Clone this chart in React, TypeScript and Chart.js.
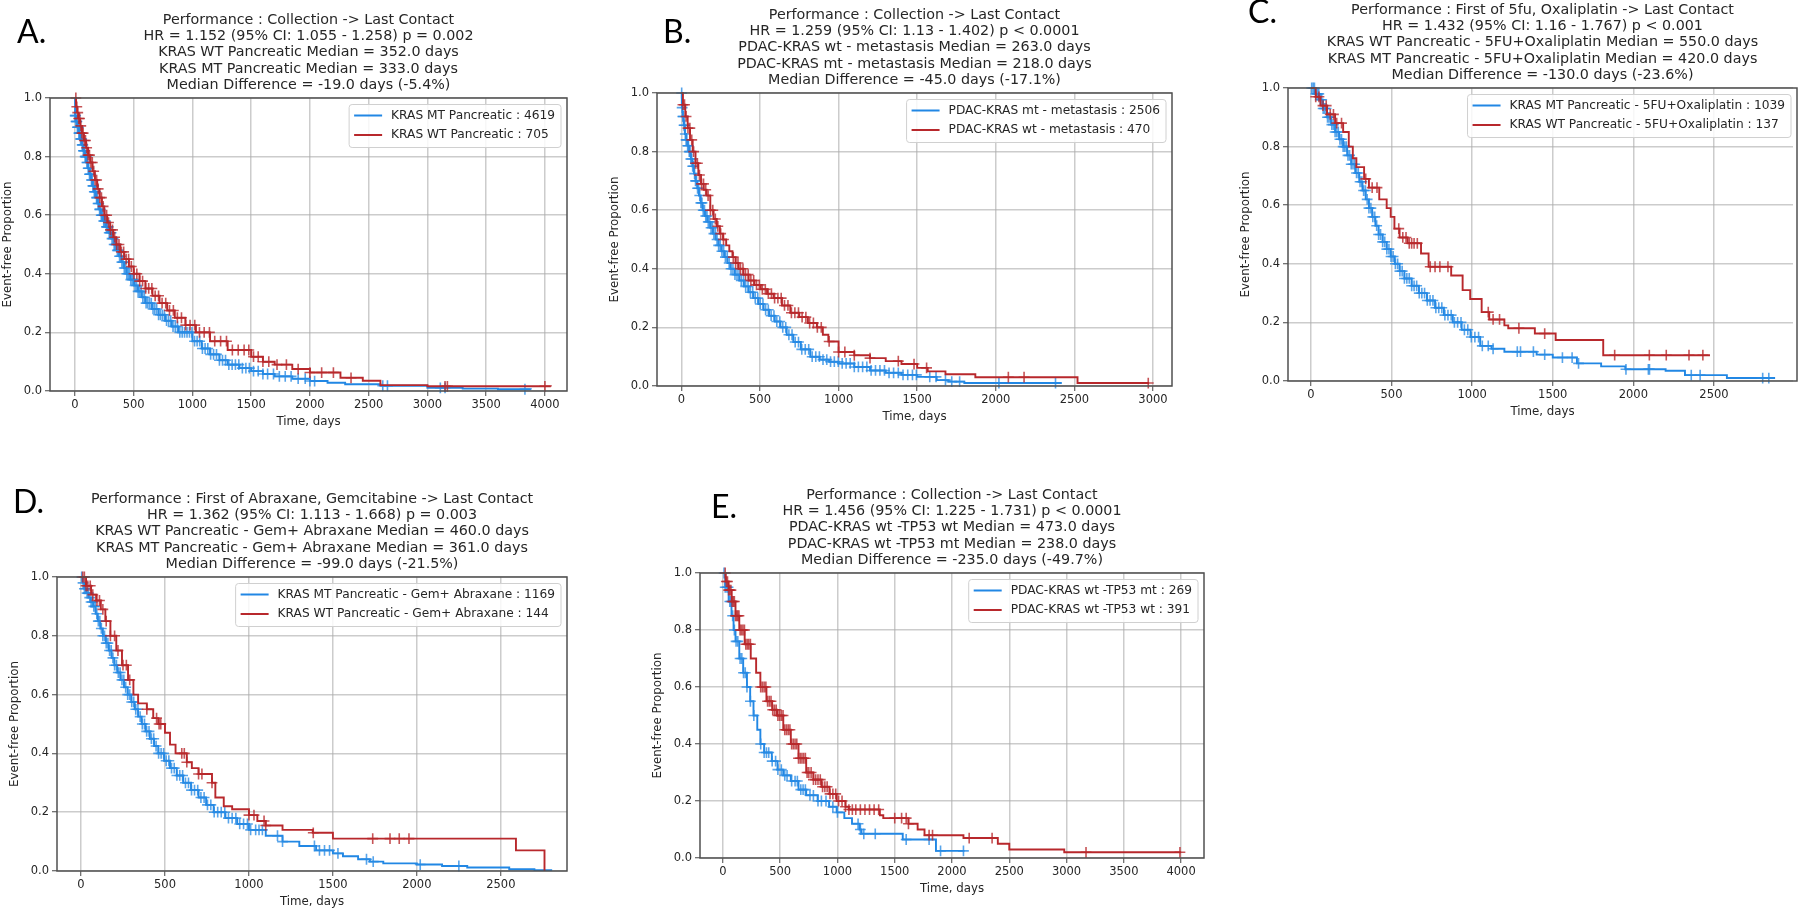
import React, { useEffect, useRef } from "react";
import { Chart, registerables } from "chart.js";
Chart.register(...registerables);

const W = 1800;
const H = 913;
const BLUE = "#2187e4";
const RED = "#b8282c";
const BLUE_C = "rgba(40,138,228,0.78)";
const RED_C = "rgba(184,40,44,0.8)";

// ---------- Panel A ----------
const aTitle = [
  "Performance : Collection -> Last Contact",
  "HR = 1.152 (95% CI: 1.055 - 1.258) p = 0.002",
  "KRAS WT Pancreatic Median = 352.0 days",
  "KRAS MT Pancreatic Median = 333.0 days",
  "Median Difference = -19.0 days (-5.4%)",
];
const aLegend = ["KRAS MT Pancreatic : 4619", "KRAS WT Pancreatic : 705"];
const aXTicks = [0, 500, 1000, 1500, 2000, 2500, 3000, 3500, 4000];
const aMtT = [0, 2, 8, 21, 34, 47, 60, 72, 85, 98, 111, 124, 137, 150, 164, 178, 192, 206, 220, 243, 265, 288, 310, 333, 354, 376, 397, 418, 440, 472, 504, 536, 568, 600, 656, 712, 768, 824, 880, 1000, 1080, 1150, 1230, 1300, 1400, 1500, 1600, 1700, 1850, 2000, 2150, 2300, 2600, 3000, 3300, 3600, 3880];
const aMtS = [1.0, 0.94, 0.92, 0.9, 0.88, 0.86, 0.84, 0.82, 0.8, 0.78, 0.76, 0.74, 0.72, 0.7, 0.68, 0.66, 0.64, 0.62, 0.6, 0.58, 0.56, 0.54, 0.52, 0.5, 0.48, 0.46, 0.44, 0.42, 0.4, 0.38, 0.36, 0.34, 0.32, 0.3, 0.28, 0.26, 0.24, 0.22, 0.2, 0.17, 0.145, 0.125, 0.105, 0.09, 0.078, 0.068, 0.058, 0.05, 0.042, 0.034, 0.028, 0.023, 0.018, 0.011, 0.008, 0.006, 0.005];
const aMtCens = [2, 6, 9, 13, 17, 21, 26, 30, 34, 39, 44, 48, 53, 58, 62, 67, 72, 77, 82, 87, 92, 97, 102, 108, 113, 118, 124, 130, 135, 141, 147, 153, 159, 165, 171, 177, 184, 190, 197, 203, 210, 217, 224, 231, 238, 245, 252, 260, 268, 276, 284, 292, 300, 308, 316, 325, 334, 343, 352, 361, 370, 380, 390, 400, 410, 420, 431, 442, 453, 464, 476, 488, 500, 512, 525, 538, 551, 564, 578, 592, 606, 620, 635, 650, 665, 680, 696, 712, 728, 745, 762, 780, 798, 816, 835, 854, 873, 893, 913, 933, 954, 975, 996, 1018, 1040, 1062, 1085, 1108, 1131, 1155, 1180, 1205, 1230, 1256, 1282, 1310, 1338, 1366, 1395, 1425, 1455, 1485, 1520, 1560, 1600, 1640, 1690, 1740, 1790, 1840, 1900, 1960, 2000, 2040, 2620, 2660, 3110, 3150, 3830];
const aWtT = [0, 10, 20, 30, 45, 60, 77, 95, 112, 130, 150, 170, 190, 210, 230, 250, 275, 300, 326, 352, 385, 420, 460, 500, 550, 600, 660, 720, 785, 850, 940, 1030, 1150, 1300, 1500, 1600, 1700, 1850, 2000, 2260, 2450, 2600, 3000, 4050];
const aWtS = [1.0, 0.97, 0.95, 0.93, 0.905, 0.88, 0.855, 0.83, 0.805, 0.78, 0.75, 0.72, 0.69, 0.66, 0.63, 0.6, 0.575, 0.55, 0.525, 0.5, 0.475, 0.45, 0.425, 0.4, 0.375, 0.35, 0.325, 0.3, 0.275, 0.25, 0.225, 0.2, 0.17, 0.14, 0.117, 0.1, 0.09, 0.075, 0.063, 0.045, 0.035, 0.02, 0.016, 0.015];
const aWtCens = [8, 16, 24, 32, 40, 50, 60, 70, 80, 90, 100, 112, 124, 136, 148, 160, 172, 185, 198, 212, 226, 240, 255, 270, 286, 302, 320, 338, 356, 375, 395, 415, 436, 457, 480, 503, 527, 551, 576, 602, 628, 655, 683, 712, 742, 773, 805, 838, 872, 907, 943, 980, 1020, 1060, 1100, 1145, 1190, 1240, 1290, 1340, 1390, 1440, 1480, 1520, 1560, 1600, 1650, 1720, 1800, 1900, 2000, 2100, 2200, 2350, 3150, 3170, 4000];

// ---------- Panel B ----------
const bTitle = [
  "Performance : Collection -> Last Contact",
  "HR = 1.259 (95% CI: 1.13 - 1.402) p < 0.0001",
  "PDAC-KRAS wt - metastasis Median = 263.0 days",
  "PDAC-KRAS mt - metastasis Median = 218.0 days",
  "Median Difference = -45.0 days (-17.1%)",
];
const bLegend = ["PDAC-KRAS mt - metastasis : 2506", "PDAC-KRAS wt - metastasis : 470"];
const bXTicks = [0, 500, 1000, 1500, 2000, 2500, 3000];
const bMtT = [0, 3, 8, 15, 22, 30, 40, 50, 60, 70, 80, 90, 101, 112, 123, 135, 150, 166, 184, 201, 218, 236, 255, 274, 293, 312, 340, 369, 398, 428, 458, 490, 523, 558, 594, 630, 670, 712, 760, 820, 880, 940, 1000, 1100, 1200, 1300, 1400, 1500, 1624, 1700, 1800, 2420];
const bMtS = [1.0, 0.95, 0.92, 0.89, 0.86, 0.84, 0.82, 0.8, 0.775, 0.75, 0.725, 0.7, 0.675, 0.65, 0.625, 0.6, 0.58, 0.56, 0.54, 0.52, 0.5, 0.48, 0.46, 0.44, 0.42, 0.4, 0.38, 0.36, 0.34, 0.32, 0.3, 0.28, 0.26, 0.24, 0.22, 0.2, 0.175, 0.15, 0.125, 0.1, 0.09, 0.083, 0.077, 0.065, 0.053, 0.045, 0.038, 0.031, 0.02, 0.015, 0.01, 0.01];
const bMtCens = [2, 5, 9, 13, 17, 21, 25, 30, 35, 40, 45, 50, 55, 60, 66, 72, 78, 84, 90, 96, 103, 110, 117, 124, 131, 139, 147, 155, 163, 171, 180, 189, 198, 207, 217, 227, 237, 247, 258, 269, 280, 292, 304, 316, 328, 341, 354, 367, 381, 395, 409, 424, 439, 454, 470, 486, 502, 519, 536, 553, 571, 589, 607, 626, 645, 664, 684, 704, 724, 745, 766, 788, 810, 832, 855, 878, 901, 925, 949, 973, 998, 1023, 1048, 1074, 1100, 1126, 1153, 1180, 1207, 1235, 1263, 1292, 1321, 1350, 1380, 1410, 1440, 1470, 1495, 1580, 1620, 1680, 1720, 1770, 2020, 2380];
const bWtT = [0, 10, 25, 40, 55, 72, 90, 108, 125, 142, 160, 184, 205, 225, 245, 265, 285, 305, 325, 345, 364, 395, 428, 465, 505, 545, 587, 640, 693, 750, 805, 862, 900, 935, 1000, 1100, 1200, 1300, 1400, 1500, 1567, 1680, 1870, 2520, 2975];
const bWtS = [1.0, 0.96, 0.92, 0.88, 0.84, 0.8, 0.76, 0.72, 0.69, 0.67, 0.65, 0.6, 0.57, 0.545, 0.52, 0.5, 0.48, 0.46, 0.44, 0.42, 0.4, 0.38, 0.36, 0.345, 0.33, 0.315, 0.3, 0.275, 0.25, 0.235, 0.215, 0.2, 0.175, 0.152, 0.116, 0.105, 0.095, 0.085, 0.075, 0.062, 0.05, 0.04, 0.03, 0.01, 0.01];
const bWtCens = [10, 20, 30, 42, 54, 66, 78, 90, 102, 115, 128, 141, 155, 170, 185, 200, 216, 232, 250, 268, 330, 345, 360, 376, 392, 408, 425, 442, 460, 478, 496, 515, 534, 553, 573, 593, 614, 635, 656, 678, 700, 722, 745, 768, 792, 816, 840, 865, 890, 940, 1000, 1040, 1100, 1200, 1380, 1480, 1560, 2080, 2180, 2970];

// ---------- Panel C ----------
const cTitle = [
  "Performance : First of 5fu, Oxaliplatin -> Last Contact",
  "HR = 1.432 (95% CI: 1.16 - 1.767) p < 0.001",
  "KRAS WT Pancreatic - 5FU+Oxaliplatin Median = 550.0 days",
  "KRAS MT Pancreatic - 5FU+Oxaliplatin Median = 420.0 days",
  "Median Difference = -130.0 days (-23.6%)",
];
const cLegend = ["KRAS MT Pancreatic - 5FU+Oxaliplatin : 1039", "KRAS WT Pancreatic - 5FU+Oxaliplatin : 137"];
const cXTicks = [0, 500, 1000, 1500, 2000, 2500];
const cMtT = [0, 25, 50, 75, 100, 125, 150, 175, 200, 225, 250, 275, 300, 320, 340, 360, 380, 400, 420, 445, 470, 495, 520, 550, 580, 625, 670, 720, 770, 825, 880, 935, 990, 1050, 1120, 1200, 1400, 1500, 1650, 1800, 1950, 2200, 2320, 2580, 2879];
const cMtS = [1.0, 0.98, 0.96, 0.93, 0.9, 0.875, 0.85, 0.825, 0.8, 0.77, 0.74, 0.71, 0.68, 0.65, 0.62, 0.59, 0.56, 0.53, 0.5, 0.475, 0.45, 0.425, 0.4, 0.375, 0.35, 0.325, 0.3, 0.275, 0.25, 0.225, 0.2, 0.175, 0.15, 0.12, 0.11, 0.1, 0.09, 0.08, 0.06, 0.05, 0.04, 0.035, 0.02, 0.01, 0.01];
const cMtCens = [5, 14, 22, 31, 40, 49, 58, 67, 76, 85, 94, 103, 112, 121, 130, 140, 150, 160, 170, 180, 190, 200, 210, 220, 230, 240, 250, 261, 272, 283, 294, 305, 316, 327, 338, 349, 360, 372, 384, 396, 408, 420, 432, 445, 458, 471, 484, 497, 510, 524, 538, 552, 566, 580, 595, 610, 625, 640, 656, 672, 688, 705, 722, 739, 757, 775, 793, 812, 831, 850, 870, 890, 910, 931, 952, 973, 995, 1017, 1040, 1063, 1100, 1130, 1280, 1300, 1380, 1450, 1560, 1620, 1660, 1954, 2093, 2100, 2359, 2414, 2802, 2840];
const cWtT = [0, 30, 60, 100, 150, 200, 235, 260, 282, 330, 360, 424, 470, 495, 518, 550, 600, 683, 730, 870, 941, 988, 1059, 1106, 1200, 1224, 1389, 1518, 1813, 2475];
const cWtS = [1.0, 0.97, 0.94, 0.91, 0.88, 0.85, 0.8, 0.76, 0.73, 0.69, 0.66, 0.62, 0.59, 0.56, 0.52, 0.49, 0.47, 0.435, 0.39, 0.36, 0.31, 0.28, 0.235, 0.21, 0.19, 0.18, 0.162, 0.14, 0.088, 0.088];
const cWtCens = [30, 50, 75, 95, 120, 140, 160, 190, 340, 380, 410, 545, 570, 590, 610, 625, 640, 660, 740, 770, 800, 850, 1100, 1130, 1170, 1290, 1450, 1884, 2099, 2204, 2345, 2431];

// ---------- Panel D ----------
const dTitle = [
  "Performance : First of Abraxane, Gemcitabine -> Last Contact",
  "HR = 1.362 (95% CI: 1.113 - 1.668) p = 0.003",
  "KRAS WT Pancreatic - Gem+ Abraxane Median = 460.0 days",
  "KRAS MT Pancreatic - Gem+ Abraxane Median = 361.0 days",
  "Median Difference = -99.0 days (-21.5%)",
];
const dLegend = ["KRAS MT Pancreatic - Gem+ Abraxane : 1169", "KRAS WT Pancreatic - Gem+ Abraxane : 144"];
const dXTicks = [0, 500, 1000, 1500, 2000, 2500];
const dMtT = [0, 10, 20, 32, 45, 58, 73, 87, 100, 115, 130, 148, 165, 182, 198, 216, 235, 256, 278, 299, 320, 340, 361, 385, 410, 435, 460, 495, 530, 570, 608, 655, 700, 745, 790, 860, 930, 1000, 1100, 1200, 1300, 1400, 1500, 1560, 1650, 1720, 1800, 2000, 2150, 2300, 2550, 2700, 2800];
const dMtS = [1.0, 0.98, 0.96, 0.945, 0.93, 0.915, 0.9, 0.875, 0.85, 0.825, 0.8, 0.775, 0.75, 0.725, 0.7, 0.675, 0.65, 0.625, 0.6, 0.575, 0.55, 0.525, 0.5, 0.475, 0.45, 0.425, 0.4, 0.375, 0.35, 0.325, 0.3, 0.275, 0.25, 0.225, 0.2, 0.18, 0.16, 0.14, 0.12, 0.1, 0.085, 0.07, 0.06, 0.05, 0.04, 0.032, 0.026, 0.022, 0.017, 0.012, 0.006, 0.003, 0.0];
const dMtCens = [4, 12, 20, 28, 36, 44, 52, 60, 68, 76, 85, 94, 103, 112, 121, 130, 140, 150, 160, 170, 180, 190, 200, 211, 222, 233, 244, 255, 266, 278, 290, 302, 314, 326, 339, 352, 365, 378, 391, 405, 419, 433, 447, 462, 477, 492, 507, 523, 539, 555, 571, 588, 605, 622, 640, 658, 676, 695, 714, 733, 753, 773, 793, 814, 835, 856, 878, 900, 922, 945, 968, 991, 1010, 1040, 1060, 1080, 1170, 1200, 1390, 1420, 1450, 1480, 1530, 1700, 1740, 2020, 2250];
const dWtT = [0, 30, 60, 90, 118, 145, 175, 210, 244, 280, 312, 340, 392, 430, 460, 500, 530, 563, 630, 660, 700, 780, 800, 850, 900, 1000, 1050, 1100, 1200, 1380, 1500, 2590, 2760];
const dWtS = [1.0, 0.97, 0.94, 0.92, 0.89, 0.85, 0.8, 0.75, 0.7, 0.65, 0.6, 0.57, 0.55, 0.52, 0.5, 0.47, 0.43, 0.4, 0.37, 0.35, 0.33, 0.3, 0.25, 0.22, 0.21, 0.19, 0.17, 0.155, 0.14, 0.13, 0.11, 0.07, 0.0];
const dWtCens = [10, 20, 30, 40, 55, 70, 95, 110, 130, 150, 175, 200, 220, 250, 270, 290, 392, 450, 465, 475, 600, 615, 630, 700, 720, 780, 1000, 1030, 1090, 1100, 1383, 1737, 1840, 1895, 1953];

// ---------- Panel E ----------
const eTitle = [
  "Performance : Collection -> Last Contact",
  "HR = 1.456 (95% CI: 1.225 - 1.731) p < 0.0001",
  "PDAC-KRAS wt -TP53 wt Median = 473.0 days",
  "PDAC-KRAS wt -TP53 mt Median = 238.0 days",
  "Median Difference = -235.0 days (-49.7%)",
];
const eLegend = ["PDAC-KRAS wt -TP53 mt : 269", "PDAC-KRAS wt -TP53 wt : 391"];
const eXTicks = [0, 500, 1000, 1500, 2000, 2500, 3000, 3500, 4000];
const eMtT = [0, 20, 50, 75, 93, 110, 143, 177, 210, 238, 267, 300, 327, 360, 427, 477, 527, 593, 660, 727, 827, 927, 993, 1060, 1127, 1193, 1210, 1570, 1860, 2110];
const eMtS = [1.0, 0.95, 0.9, 0.85, 0.8, 0.76, 0.7, 0.65, 0.6, 0.55, 0.5, 0.45, 0.4, 0.37, 0.34, 0.31, 0.29, 0.27, 0.24, 0.22, 0.2, 0.18, 0.16, 0.14, 0.12, 0.1, 0.085, 0.065, 0.025, 0.025];
const eMtCens = [10, 20, 35, 45, 60, 70, 85, 100, 115, 130, 150, 165, 180, 195, 210, 240, 270, 330, 360, 380, 400, 430, 460, 480, 510, 540, 560, 600, 630, 650, 680, 700, 720, 760, 790, 830, 860, 900, 960, 1000, 1180, 1200, 1230, 1330, 1600, 1800, 1900, 2100];
const eWtT = [0, 25, 50, 77, 110, 143, 190, 243, 290, 327, 380, 430, 473, 527, 593, 660, 727, 790, 860, 930, 993, 1070, 1100, 1370, 1400, 1620, 1700, 1760, 2100, 2400, 2500, 2980, 4000];
const eWtS = [1.0, 0.97, 0.94, 0.9, 0.85, 0.8, 0.75, 0.7, 0.65, 0.6, 0.55, 0.52, 0.5, 0.45, 0.4, 0.35, 0.3, 0.275, 0.25, 0.225, 0.2, 0.18, 0.17, 0.15, 0.14, 0.12, 0.1, 0.08, 0.07, 0.05, 0.03, 0.02, 0.02];
const eWtCens = [20, 30, 40, 50, 60, 70, 80, 90, 100, 110, 120, 130, 140, 150, 162, 175, 188, 200, 213, 226, 240, 330, 345, 360, 375, 390, 405, 420, 435, 450, 465, 480, 495, 510, 525, 540, 555, 570, 585, 600, 615, 630, 645, 660, 675, 690, 705, 720, 735, 750, 770, 790, 810, 830, 850, 870, 890, 910, 935, 960, 985, 1010, 1040, 1070, 1100, 1130, 1160, 1200, 1240, 1280, 1320, 1360, 1500, 1560, 1600, 1620, 1800, 1830, 2150, 2350, 3170, 3990];

type Curve = { t: number[]; s: number[]; cens: number[]; color: string; censColor: string };
type Panel = {
  letter: string;
  letterX: number;
  letterY: number;
  title: string[];
  legend: string[];
  l: number;
  r: number;
  t: number;
  b: number;
  xMin: number;
  xMax: number;
  xTicks: number[];
  blue: Curve;
  red: Curve;
};

const panels: Panel[] = [
  {
    letter: "A.", letterX: 17, letterY: 43, title: aTitle, legend: aLegend,
    l: 50, r: 567, t: 98, b: 391, xMin: -212, xMax: 4188, xTicks: aXTicks,
    blue: { t: aMtT, s: aMtS, cens: aMtCens, color: BLUE, censColor: BLUE_C },
    red: { t: aWtT, s: aWtS, cens: aWtCens, color: RED, censColor: RED_C },
  },
  {
    letter: "B.", letterX: 663, letterY: 43, title: bTitle, legend: bLegend,
    l: 657, r: 1172, t: 93, b: 386, xMin: -155, xMax: 3121, xTicks: bXTicks,
    blue: { t: bMtT, s: bMtS, cens: bMtCens, color: BLUE, censColor: BLUE_C },
    red: { t: bWtT, s: bWtS, cens: bWtCens, color: RED, censColor: RED_C },
  },
  {
    letter: "C.", letterX: 1248, letterY: 23, title: cTitle, legend: cLegend,
    l: 1288, r: 1797, t: 88, b: 381, xMin: -142, xMax: 2990, xTicks: cXTicks,
    blue: { t: cMtT, s: cMtS, cens: cMtCens, color: BLUE, censColor: BLUE_C },
    red: { t: cWtT, s: cWtS, cens: cWtCens, color: RED, censColor: RED_C },
  },
  {
    letter: "D.", letterX: 13, letterY: 513, title: dTitle, legend: dLegend,
    l: 57, r: 567, t: 577, b: 871, xMin: -143, xMax: 2894, xTicks: dXTicks,
    blue: { t: dMtT, s: dMtS, cens: dMtCens, color: BLUE, censColor: BLUE_C },
    red: { t: dWtT, s: dWtS, cens: dWtCens, color: RED, censColor: RED_C },
  },
  {
    letter: "E.", letterX: 711, letterY: 518, title: eTitle, legend: eLegend,
    l: 700, r: 1204, t: 573, b: 858, xMin: -200, xMax: 4200, xTicks: eXTicks,
    blue: { t: eMtT, s: eMtS, cens: eMtCens, color: BLUE, censColor: BLUE_C },
    red: { t: eWtT, s: eWtS, cens: eWtCens, color: RED, censColor: RED_C },
  },
];

const FONT = '"DejaVu Sans", sans-serif';
const TEXT = "#262626";
const Y_AXIS_W = 46;
const X_AXIS_H = 24;

function stepAt(ts: number[], ss: number[], x: number) {
  let v = ss[0];
  for (let i = 0; i < ts.length; i++) {
    if (ts[i] <= x) v = ss[i];
    else break;
  }
  return v;
}

function curveDatasets(c: Curve) {
  return [
    {
      data: c.cens.map((x) => ({ x, y: stepAt(c.t, c.s, x) })),
      showLine: false,
      pointStyle: "cross",
      pointRadius: 5.4,
      pointBorderWidth: 1.6,
      pointBorderColor: c.censColor,
      pointBackgroundColor: c.censColor,
      borderColor: c.censColor,
      backgroundColor: c.censColor,
      clip: 10,
    },
    {
      data: c.t.map((x, i) => ({ x, y: c.s[i] })),
      stepped: "before",
      borderColor: c.color,
      borderWidth: 1.9,
      pointRadius: 0,
      fill: false,
      clip: 4,
    },
  ];
}

function makeDecor(p: Panel) {
  return {
    id: "decor" + p.letter,
    afterDraw(chart: any) {
      const ctx = chart.ctx;
      ctx.save();
      ctx.strokeStyle = "#505050";
      ctx.lineWidth = 1.5;
      ctx.strokeRect(p.l, p.t, p.r - p.l, p.b - p.t);
      ctx.fillStyle = "#000";
      ctx.font = '32px Lato, "Open Sans", sans-serif';
      ctx.textAlign = "left";
      ctx.textBaseline = "alphabetic";
      ctx.fillText(p.letter, p.letterX, p.letterY);
      ctx.fillStyle = TEXT;
      ctx.font = "14.3px " + FONT;
      ctx.textAlign = "center";
      ctx.textBaseline = "middle";
      const cx = (p.l + p.r) / 2;
      p.title.forEach((line, i) => {
        ctx.fillText(line, cx, p.t - 13 - 16.2 * (p.title.length - 1 - i));
      });
      ctx.font = "11.8px " + FONT;
      ctx.fillText("Time, days", cx, p.b + 31);
      ctx.save();
      ctx.translate(p.l - 42, (p.t + p.b) / 2);
      ctx.rotate(-Math.PI / 2);
      ctx.fillText("Event-free Proportion", 0, 0);
      ctx.restore();
      ctx.font = "12.2px " + FONT;
      const tw = Math.max(...p.legend.map((s) => ctx.measureText(s).width));
      const boxW = tw + 48;
      const boxH = 43;
      const bx = p.r - 6 - boxW;
      const by = p.t + 6.5;
      ctx.beginPath();
      ctx.roundRect(bx, by, boxW, boxH, 3);
      ctx.fillStyle = "rgba(255,255,255,0.85)";
      ctx.fill();
      ctx.strokeStyle = "#d0d0d0";
      ctx.lineWidth = 1;
      ctx.stroke();
      const colors = [BLUE, RED];
      p.legend.forEach((s, i) => {
        const y = by + 11 + i * 19.5;
        ctx.strokeStyle = colors[i];
        ctx.lineWidth = 2;
        ctx.beginPath();
        ctx.moveTo(bx + 5, y);
        ctx.lineTo(bx + 33, y);
        ctx.stroke();
        ctx.fillStyle = TEXT;
        ctx.textAlign = "left";
        ctx.textBaseline = "middle";
        ctx.fillText(s, bx + 42, y);
      });
      ctx.restore();
    },
  };
}

function PanelChart({ p }: { p: Panel }) {
  const ref = useRef<HTMLCanvasElement | null>(null);
  useEffect(() => {
    if (!ref.current) return;
    const tickFont = { family: FONT, size: 11.5 };
    const gridOpts = {
      color: "rgba(170,170,170,0.6)",
      lineWidth: 1.5,
      tickLength: 5,
      tickColor: "#444",
      tickWidth: 1,
    };
    const chart = new Chart(ref.current, {
      type: "line",
      data: {
        datasets: [...curveDatasets(p.red), ...curveDatasets(p.blue)] as any,
      },
      options: {
        animation: false,
        responsive: false,
        maintainAspectRatio: false,
        events: [],
        layout: {
          padding: {
            left: p.l - Y_AXIS_W,
            right: W - p.r,
            top: p.t,
            bottom: H - p.b - X_AXIS_H,
          },
        },
        plugins: {
          legend: { display: false },
          title: { display: false },
          tooltip: { enabled: false },
        },
        scales: {
          x: {
            type: "linear",
            min: p.xMin,
            max: p.xMax,
            afterBuildTicks: (s: any) => {
              s.ticks = p.xTicks.map((v) => ({ value: v }));
            },
            afterFit: (s: any) => {
              s.height = X_AXIS_H;
            },
            ticks: {
              autoSkip: false,
              maxRotation: 0,
              padding: 2,
              color: TEXT,
              font: tickFont,
              callback: (v: any) => String(v),
            },
            grid: gridOpts,
            border: { display: false },
          },
          y: {
            type: "linear",
            min: 0,
            max: 1,
            afterFit: (s: any) => {
              s.width = Y_AXIS_W;
            },
            ticks: {
              stepSize: 0.2,
              padding: 3,
              color: TEXT,
              font: tickFont,
              callback: (v: any) => Number(v).toFixed(1),
            },
            grid: gridOpts,
            border: { display: false },
          },
        },
      } as any,
      plugins: [makeDecor(p)],
    });
    return () => chart.destroy();
  }, [p]);
  return (
    <canvas
      ref={ref}
      width={W}
      height={H}
      style={{ position: "absolute", left: 0, top: 0, width: W, height: H }}
    />
  );
}

export default function App() {
  return (
    <div style={{ position: "absolute", left: 0, top: 0, width: W, height: H, background: "#fff", overflow: "hidden" }}>
      {panels.map((p) => (
        <PanelChart key={p.letter} p={p} />
      ))}
    </div>
  );
}
